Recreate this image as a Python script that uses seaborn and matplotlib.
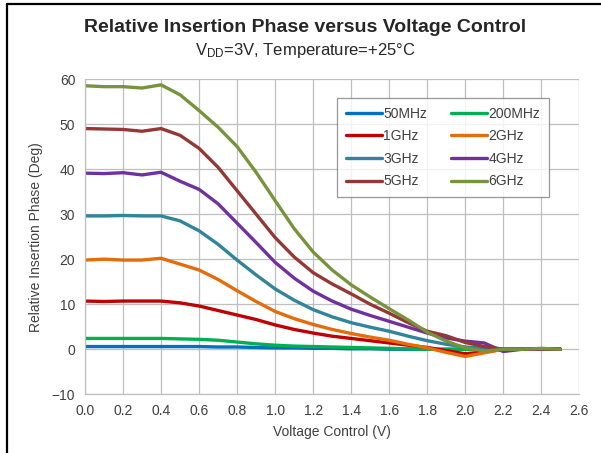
"""Relative insertion phase vs. voltage control chart."""

import matplotlib

matplotlib.use("Agg")
import matplotlib.pyplot as plt
from matplotlib.lines import Line2D
import pandas as pd
import seaborn as sns


VOLTAGE = [0.0, 0.1, 0.2, 0.3, 0.4, 0.5, 0.6, 0.7, 0.8, 0.9, 1.0, 1.1, 1.2,
           1.3, 1.4, 1.5, 1.6, 1.7, 1.8, 1.9, 2.0, 2.1, 2.2, 2.3, 2.4, 2.5]

PHASE_50MHZ = [0.6, 0.6, 0.6, 0.6, 0.6, 0.6, 0.6, 0.5, 0.5, 0.4, 0.3, 0.3, 0.2,
               0.2, 0.1, 0.1, 0.0, 0.0, 0.0, 0.0, 0.0, 0.0, 0.0, 0.0, 0.0, 0.0]
PHASE_200MHZ = [2.4, 2.4, 2.4, 2.4, 2.4, 2.3, 2.2, 2.0, 1.6, 1.2, 0.9, 0.7, 0.6,
                0.5, 0.4, 0.3, 0.2, 0.1, 0.0, 0.0, 0.0, 0.0, 0.0, 0.0, 0.0, 0.0]
PHASE_1GHZ = [10.7, 10.6, 10.7, 10.7, 10.7, 10.3, 9.6, 8.6, 7.6, 6.6, 5.4, 4.4, 3.6,
              2.9, 2.4, 1.9, 1.4, 0.9, 0.4, -0.3, -1.0, -0.6, 0.0, 0.0, 0.1, 0.0]
PHASE_2GHZ = [19.8, 20.0, 19.8, 19.8, 20.2, 18.9, 17.6, 15.5, 13.0, 10.6, 8.4, 6.8, 5.5,
              4.4, 3.5, 2.7, 2.0, 1.1, 0.3, -0.7, -1.6, -0.8, 0.0, 0.0, 0.1, 0.0]
PHASE_3GHZ = [29.6, 29.6, 29.7, 29.6, 29.6, 28.5, 26.3, 23.3, 19.8, 16.5, 13.4, 10.9, 8.8,
              7.2, 5.9, 4.9, 4.0, 2.9, 1.9, 1.1, 0.5, 0.2, 0.0, 0.0, 0.1, 0.0]
PHASE_4GHZ = [39.1, 39.0, 39.2, 38.7, 39.3, 37.3, 35.5, 32.3, 28.0, 23.7, 19.3, 15.8, 12.9,
              10.7, 8.9, 7.5, 6.2, 4.9, 3.6, 2.5, 1.8, 1.4, -0.5, 0.0, 0.1, 0.0]
PHASE_5GHZ = [49.0, 48.9, 48.8, 48.4, 49.0, 47.5, 44.6, 40.4, 35.2, 30.0, 24.8, 20.5, 17.0,
              14.5, 12.3, 10.0, 8.0, 5.9, 4.0, 3.0, 1.5, 0.6, 0.0, 0.0, 0.1, 0.0]
PHASE_6GHZ = [58.5, 58.3, 58.3, 58.0, 58.7, 56.5, 53.0, 49.3, 45.0, 39.3, 33.0, 26.8, 21.6,
              17.6, 14.3, 11.6, 9.0, 6.5, 3.8, 1.8, 0.3, -0.4, 0.0, 0.0, 0.2, 0.0]

SERIES = {
    "50MHz": PHASE_50MHZ,
    "200MHz": PHASE_200MHZ,
    "1GHz": PHASE_1GHZ,
    "2GHz": PHASE_2GHZ,
    "3GHz": PHASE_3GHZ,
    "4GHz": PHASE_4GHZ,
    "5GHz": PHASE_5GHZ,
    "6GHz": PHASE_6GHZ,
}
COLORS = {
    "50MHz": "#0070C0",
    "200MHz": "#00B050",
    "1GHz": "#C00000",
    "2GHz": "#E46C0A",
    "3GHz": "#31849B",
    "4GHz": "#7030A0",
    "5GHz": "#953735",
    "6GHz": "#77933C",
}
X_TICKS = [0.0, 0.2, 0.4, 0.6, 0.8, 1.0, 1.2, 1.4, 1.6, 1.8, 2.0, 2.2, 2.4, 2.6]
Y_TICKS = [-10, 0, 10, 20, 30, 40, 50, 60]


def main() -> None:
    rows = []
    for name, values in SERIES.items():
        for v, p in zip(VOLTAGE, values):
            rows.append({"Voltage": v, "Phase": p, "Frequency": name})
    frame = pd.DataFrame(rows)

    sns.set_style("white")
    plt.rcParams["font.family"] = ["Liberation Sans", "DejaVu Sans"]
    plt.rcParams["mathtext.fontset"] = "custom"
    plt.rcParams["mathtext.rm"] = "Liberation Sans"

    fig = plt.figure(figsize=(6.01, 4.53), dpi=100)
    axis = fig.add_axes([0.1414, 0.1296, 0.8225, 0.696])

    sns.lineplot(
        data=frame,
        x="Voltage",
        y="Phase",
        hue="Frequency",
        hue_order=list(SERIES),
        palette=COLORS,
        linewidth=2.4,
        ax=axis,
        legend=False,
    )

    axis.set_xlim(0, 2.6)
    axis.set_ylim(-10, 60)
    axis.set_xticks(X_TICKS)
    axis.set_xticklabels([f"{t:.1f}" for t in X_TICKS])
    axis.set_yticks(Y_TICKS)
    axis.grid(True, color="#BFBFBF", linewidth=0.9)
    axis.set_axisbelow(True)
    for side in ["top", "right"]:
        axis.spines[side].set_visible(False)
    for side in ["left", "bottom"]:
        axis.spines[side].set_color("#BFBFBF")
        axis.spines[side].set_linewidth(0.9)
    axis.tick_params(axis="both", length=4, width=0.9, color="#BFBFBF",
                     labelsize=10, labelcolor="#404040", pad=3)
    axis.set_xlabel("Voltage Control (V)", fontsize=10, color="#404040", labelpad=5)
    axis.set_ylabel("Relative Insertion Phase (Deg)", fontsize=10, color="#404040",
                    labelpad=6)

    # legend is filled row by row in the reference: reorder for column filling
    names = list(SERIES)
    order = names[0::2] + names[1::2]
    handles = [Line2D([], [], color=COLORS[n], linewidth=2.4) for n in order]
    legend = axis.legend(
        handles,
        order,
        ncol=2,
        loc="upper left",
        bbox_to_anchor=(0.51, 0.94),
        fontsize=10,
        frameon=True,
        fancybox=False,
        handlelength=2.6,
        handletextpad=0.1,
        columnspacing=1.7,
        labelspacing=0.62,
        borderpad=0.62,
        borderaxespad=0,
    )
    legend.get_frame().set_edgecolor("#7F7F7F")
    legend.get_frame().set_linewidth(0.9)
    for text in legend.get_texts():
        text.set_color("#404040")

    fig.text(0.508, 0.94, "Relative Insertion Phase versus Voltage Control",
             ha="center", va="center", fontsize=14, fontweight="bold", color="#262626")
    fig.text(0.508, 0.888, r"$\mathregular{V_{DD}}$=3V, Temperature=+25°C",
             ha="center", va="center", fontsize=12, color="#262626")

    # cropped box edge seen in the screenshot
    fig.add_artist(Line2D([0.0116, 0.0116], [0, 0.991], color="black",
                          linewidth=1.6, transform=fig.transFigure))
    fig.add_artist(Line2D([0.0116, 1.0], [0.991, 0.991], color="black",
                          linewidth=1.6, transform=fig.transFigure))

    fig.savefig("out.png", dpi=100)
    plt.close(fig)


if __name__ == "__main__":
    main()
